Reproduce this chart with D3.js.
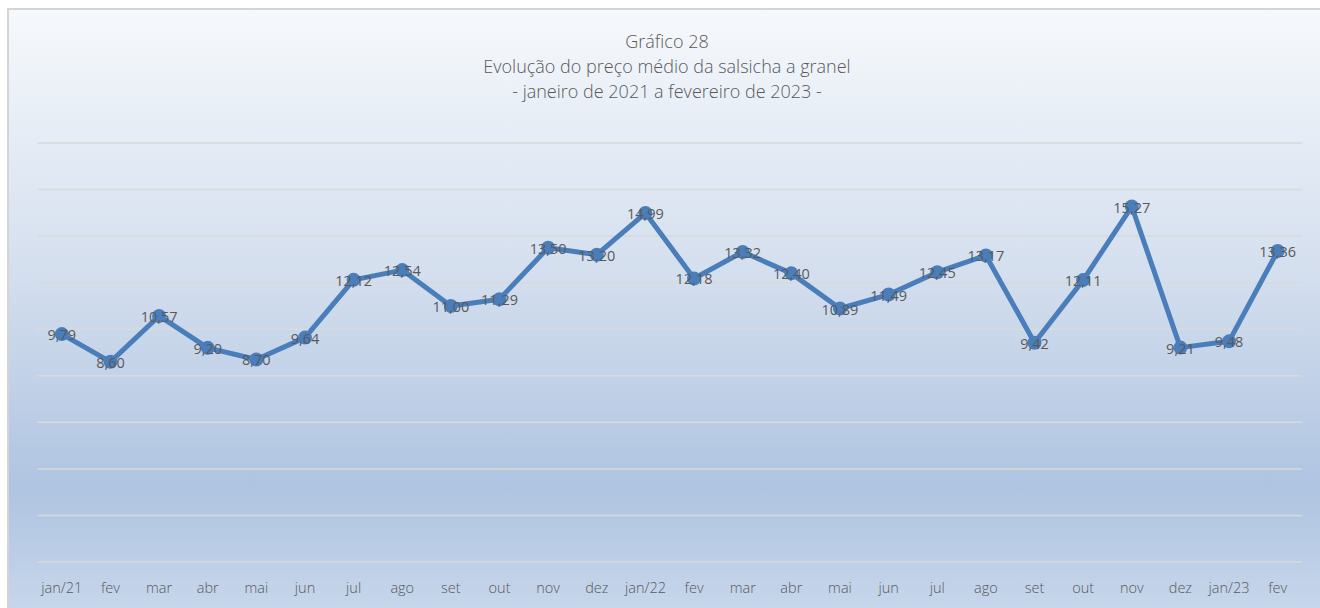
<!DOCTYPE html>
<html>
<head>
<meta charset="utf-8">
<script src="https://cdn.jsdelivr.net/npm/d3@7"></script>
<style>
  html, body { margin: 0; padding: 0; background: #ffffff; }
  svg { display: block; }
  text { font-family: "Open Sans", "Noto Sans", sans-serif; font-weight: 300; }
  text.lbl { font-weight: 400; }
</style>
</head>
<body>
<svg id="chart" width="1320" height="608"></svg>
<script>
const categories = ["jan/21","fev","mar","abr","mai","jun","jul","ago","set","out","nov","dez",
  "jan/22","fev","mar","abr","mai","jun","jul","ago","set","out","nov","dez","jan/23","fev"];
const values = [9.79, 8.60, 10.57, 9.20, 8.70, 9.64, 12.12, 12.54, 11.00, 11.29, 13.50, 13.20,
  14.99, 12.18, 13.32, 12.40, 10.89, 11.49, 12.45, 13.17, 9.42, 12.11, 15.27, 9.21, 9.48, 13.36];
const yTicks = [0, 2, 4, 6, 8, 10, 12, 14, 16, 18];
const titleLines = ["Gráfico 28", "Evolução do preço médio da salsicha a granel", "- janeiro de 2021 a fevereiro de 2023 -"];

const W = 1320, H = 608;
const svg = d3.select("#chart");

const defs = svg.append("defs");
const grad = defs.append("linearGradient").attr("id", "bg").attr("x1", 0).attr("y1", 0).attr("x2", 0).attr("y2", 1);
grad.append("stop").attr("offset", "0%").attr("stop-color", "#f6f9fc");
grad.append("stop").attr("offset", "45%").attr("stop-color", "#d3deee");
grad.append("stop").attr("offset", "80%").attr("stop-color", "#afc4e1");
grad.append("stop").attr("offset", "100%").attr("stop-color", "#c6d6eb");

svg.append("rect").attr("x", 8).attr("y", 9).attr("width", W - 8).attr("height", H - 9)
  .attr("fill", "url(#bg)");
svg.append("path").attr("d", `M8,${H} L8,9 L${W},9`).attr("fill", "none")
  .attr("stroke", "#d4d4d4").attr("stroke-width", 2);

const x = d3.scaleBand().domain(d3.range(categories.length)).range([37.5, 1302]).padding(0);
const y = d3.scaleLinear().domain([0, 18]).range([562, 143]);

// gridlines
svg.append("g").selectAll("line").data(yTicks).join("line")
  .attr("x1", 37.5).attr("x2", 1302)
  .attr("y1", d => y(d)).attr("y2", d => y(d))
  .attr("stroke", "#d9d9d9").attr("stroke-width", 1.5);

// x axis
const xAxis = d3.axisBottom(x).tickSize(0).tickFormat(i => categories[i]);
const gx = svg.append("g").attr("transform", `translate(0,${y(0)})`).call(xAxis);
gx.select(".domain").remove();
gx.selectAll("text").attr("fill", "#595959").attr("font-size", 14.5)
  .attr("font-family", "\"Open Sans\", \"Noto Sans\", sans-serif")
  .attr("dy", "1.95em");

// title
svg.append("g").selectAll("text").data(titleLines).join("text")
  .attr("x", 667).attr("y", (d, i) => 48 + i * 25)
  .attr("text-anchor", "middle").attr("fill", "#595959").attr("font-size", 18)
  .text(d => d);

const cx = i => x(i) + x.bandwidth() / 2;

const line = d3.line().x((d, i) => cx(i)).y(d => y(d));
svg.append("path").datum(values).attr("d", line)
  .attr("fill", "none").attr("stroke", "#4a7ebb").attr("stroke-width", 5)
  .attr("stroke-linejoin", "round");

svg.append("g").selectAll("circle").data(values).join("circle")
  .attr("cx", (d, i) => cx(i)).attr("cy", d => y(d)).attr("r", 7)
  .attr("fill", "#4a7ebb");

const fmt = d3.formatLocale({decimal: ",", thousands: ".", grouping: [3], currency: ["R$", ""]}).format(".2f");
svg.append("g").selectAll("text").data(values).join("text")
  .attr("class", "lbl")
  .attr("x", (d, i) => cx(i)).attr("y", d => y(d) + 6)
  .attr("text-anchor", "middle").attr("fill", "#595959").attr("font-size", 14.5)
  .text(d => fmt(d));
</script>
</body>
</html>
